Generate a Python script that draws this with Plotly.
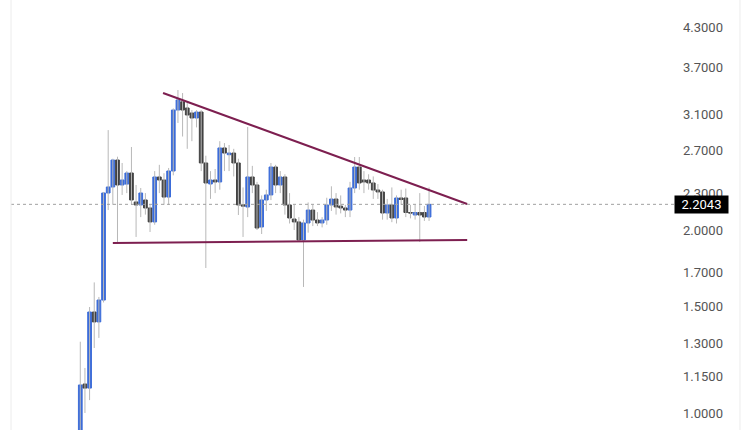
import math
import plotly.graph_objects as go

# ---- data ----
opens = [0.90, 1.116, 1.099, 1.466, 1.412, 1.534, 2.301, 2.354, 2.607, 2.372,
         2.38, 2.482, 2.224, 2.199, 2.241, 2.174, 2.062, 2.445, 2.417, 2.266,
         2.501, 3.151, 3.25, 3.175, 3.115, 3.057, 3.127, 2.578, 2.381, 2.417,
         2.399, 2.729, 2.66, 2.677, 2.578, 2.20, 2.182, 2.445, 2.372, 2.023,
         2.241, 2.284, 2.539, 2.372, 2.445, 2.199, 2.085, 2.062, 1.926, 2.054,
         2.157, 2.077, 2.054, 2.077, 2.199, 2.249, 2.19, 2.174, 2.157, 2.345,
         2.539, 2.417, 2.417, 2.39, 2.327, 2.31, 2.133, 2.199, 2.093, 2.258,
         2.258, 2.137, 2.117, 2.137, 2.137, 2.101]
highs = [1.31, 1.186, 1.494, 1.64, 1.552, 2.31, 2.92, 2.62, 2.64, 2.578,
         2.50, 2.739, 2.372, 2.345, 2.30, 2.20, 2.50, 2.56, 2.48, 2.53,
         3.17, 3.399, 3.36, 3.25, 3.15, 3.15, 3.15, 2.65, 2.50, 2.52,
         2.80, 2.78, 2.76, 2.72, 2.62, 2.35, 2.954, 2.55, 2.40, 2.28,
         2.33, 2.578, 2.56, 2.50, 2.47, 2.30, 2.20, 2.10, 2.08, 2.22,
         2.20, 2.14, 2.10, 2.26, 2.36, 2.30, 2.28, 2.20, 2.40, 2.637,
         2.637, 2.50, 2.47, 2.45, 2.38, 2.33, 2.25, 2.35, 2.28, 2.33,
         2.34, 2.20, 2.20, 2.30, 2.19, 2.35]
lows = [0.88, 1.0, 1.05, 1.279, 1.329, 1.52, 2.157, 2.20, 1.904, 2.284,
        2.30, 2.20, 1.948, 2.10, 2.12, 1.985, 2.04, 2.30, 2.20, 2.20,
        2.46, 3.0, 2.85, 2.72, 2.80, 2.95, 2.50, 1.732, 2.25, 2.30,
        2.33, 2.50, 2.50, 2.45, 2.117, 1.948, 2.10, 2.30, 2.00, 1.97,
        2.15, 2.24, 2.30, 2.30, 2.12, 2.05, 2.0, 1.92, 1.612, 1.98,
        2.03, 2.03, 2.02, 2.04, 2.15, 2.12, 2.13, 2.10, 2.10, 2.30,
        2.33, 2.30, 2.33, 2.25, 2.25, 2.08, 2.08, 2.06, 2.05, 2.20,
        2.10, 2.09, 2.08, 1.911, 2.07, 2.07]
closes = [1.112, 1.099, 1.466, 1.412, 1.534, 2.301, 2.354, 2.607, 2.372, 2.417,
          2.482, 2.241, 2.199, 2.301, 2.174, 2.062, 2.445, 2.417, 2.266, 2.501,
          3.151, 3.273, 3.151, 3.092, 3.057, 3.127, 2.578, 2.390, 2.417, 2.399,
          2.729, 2.677, 2.677, 2.578, 2.199, 2.19, 2.445, 2.372, 2.015, 2.241,
          2.284, 2.539, 2.372, 2.445, 2.199, 2.093, 2.062, 1.926, 2.054, 2.157,
          2.077, 2.054, 2.077, 2.199, 2.249, 2.182, 2.174, 2.157, 2.345, 2.539,
          2.39, 2.399, 2.39, 2.327, 2.31, 2.133, 2.199, 2.093, 2.258, 2.245,
          2.137, 2.133, 2.137, 2.117, 2.101, 2.2043]
bars = list(range(len(opens)))

last_price = 2.2043
upper_trend_x = [17.8, 83.2]
upper_trend_y = [3.361, 2.207]
lower_trend_x = [7.0, 83.2]
lower_trend_y = [1.904, 1.926]

tick_vals = [1.0, 1.15, 1.3, 1.5, 1.7, 2.0, 2.3, 2.7, 3.1, 3.7, 4.3]
tick_text = ["1.0000", "1.1500", "1.3000", "1.5000", "1.7000", "2.0000",
             "2.3000", "2.7000", "3.1000", "3.7000", "4.3000"]

BLUE = "#3b6cd9"
GRAY = "#424242"
WICK = "#b8b8b8"
TREND = "#7d1f50"

# wicks as a separate thin grey line trace
wx, wy = [], []
for i, h, l in zip(bars, highs, lows):
    wx += [i, i, None]
    wy += [l, h, None]

body_hi = [max(o, c) for o, c in zip(opens, closes)]
body_lo = [min(o, c) for o, c in zip(opens, closes)]

fig = go.Figure()
fig.add_trace(go.Scatter(x=wx, y=wy, mode="lines",
                         line=dict(color=WICK, width=1),
                         hoverinfo="skip", showlegend=False))
fig.add_trace(go.Candlestick(
    x=bars, open=opens, high=body_hi, low=body_lo, close=closes,
    increasing=dict(line=dict(color=BLUE, width=1), fillcolor=BLUE),
    decreasing=dict(line=dict(color=GRAY, width=1), fillcolor=GRAY),
    whiskerwidth=0, showlegend=False))
fig.add_trace(go.Scatter(x=upper_trend_x, y=upper_trend_y, mode="lines",
                         line=dict(color=TREND, width=2), showlegend=False))
fig.add_trace(go.Scatter(x=lower_trend_x, y=lower_trend_y, mode="lines",
                         line=dict(color=TREND, width=2), showlegend=False))

fig.add_shape(type="line", xref="paper", yref="y", x0=0, x1=1,
              y0=last_price, y1=last_price,
              line=dict(color="#a0a0a0", width=1, dash="dot"))
# panel borders
fig.add_shape(type="line", xref="paper", yref="paper", x0=0, x1=0, y0=0, y1=1,
              line=dict(color="#ececec", width=1))
fig.add_shape(type="line", xref="paper", yref="paper", x0=1.0913, x1=1.0913,
              y0=0, y1=1, line=dict(color="#ececec", width=1))

fig.add_annotation(xref="paper", yref="y", x=1, y=math.log10(last_price),
                   text=f"{last_price:.4f}", showarrow=False,
                   xanchor="left", yanchor="middle", xshift=-5,
                   width=49, height=13, align="center",
                   bgcolor="#000000", borderpad=2,
                   font=dict(color="white", size=13, family="Roboto"))

fig.update_layout(
    width=750, height=430,
    margin=dict(l=11, r=71, t=0, b=0),
    paper_bgcolor="white", plot_bgcolor="white",
    boxgap=0.2, boxgroupgap=0,
    showlegend=False,
    xaxis=dict(range=[-14.9, 128.75], visible=False,
               rangeslider=dict(visible=False), showgrid=False),
    yaxis=dict(type="log", side="right",
               range=[-0.02797, 0.6794],
               tickvals=tick_vals, ticktext=tick_text,
               showgrid=False, zeroline=False, showline=False,
               ticks="", ticklabelstandoff=3,
               tickfont=dict(size=13, color="#555555", family="Roboto")),
)

fig.write_html("out.html", config={"displayModeBar": False},
               post_script="document.body.style.margin='0px';")
